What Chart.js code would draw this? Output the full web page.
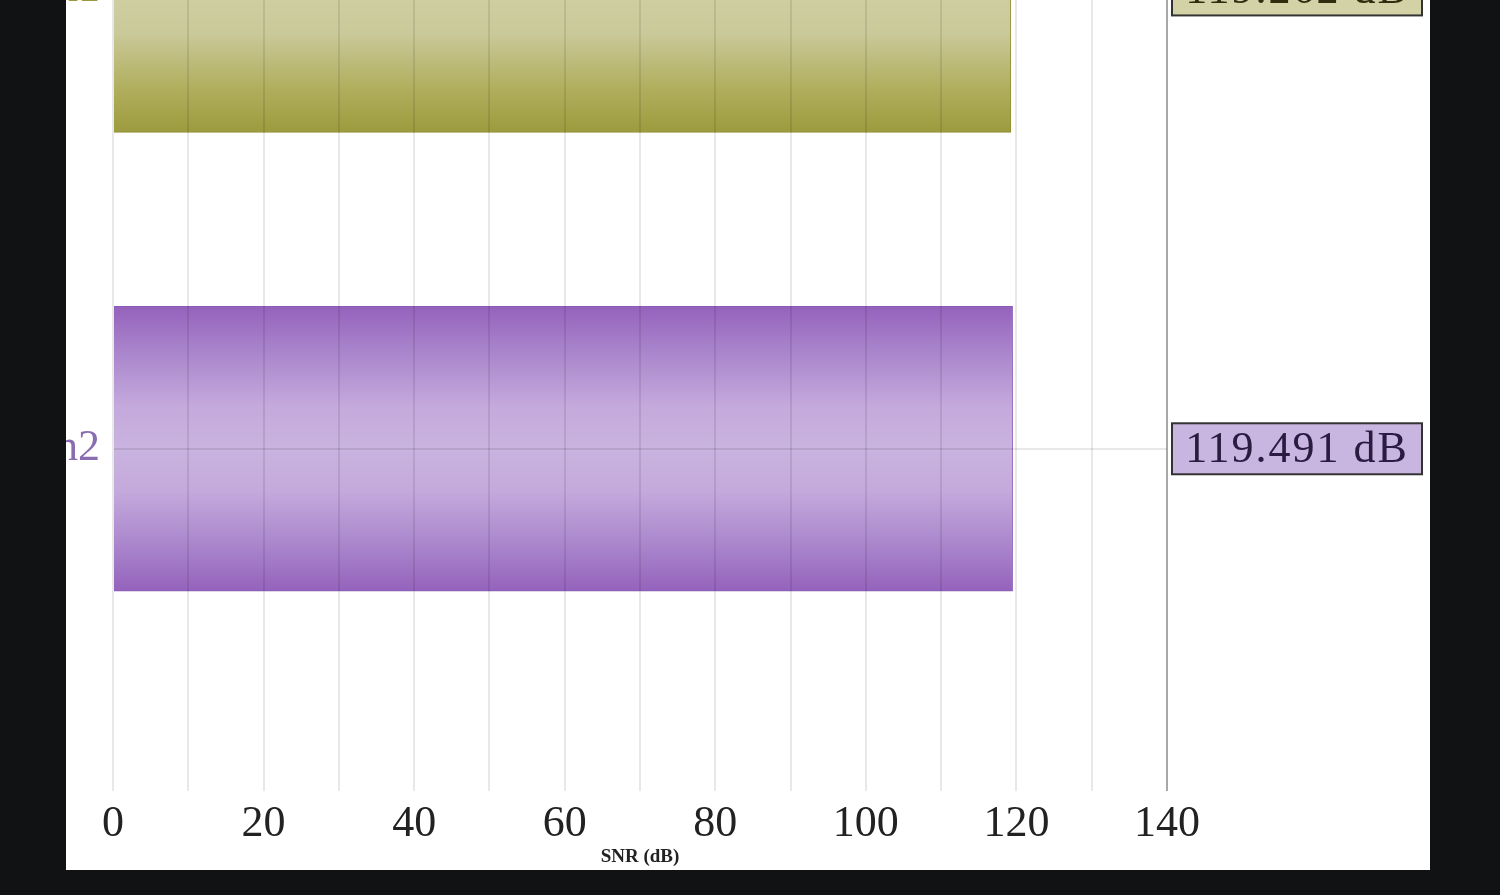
<!DOCTYPE html>
<html>
<head>
<meta charset="utf-8">
<script src="https://cdn.jsdelivr.net/npm/chart.js@4/dist/chart.umd.min.js"></script>
<style>
  html, body { margin: 0; padding: 0; background: #111214; width: 1500px; height: 895px; overflow: hidden; }
  #panel { position: absolute; left: 66px; top: 0; width: 1364px; height: 870px; background: #fff; overflow: hidden; }
  #snrChart { position: absolute; left: -60px; top: -300px; }
</style>
</head>
<body>
<div id="panel"><canvas id="snrChart" width="1424" height="1170"></canvas></div>
<script>
// Kanallar ve SNR değerleri
const channels = ['Ch1', 'Ch2'];
const snrValues = [119.262, 119.491];
const xTickLabels = [0, 20, 40, 60, 80, 100, 120, 140];

// Renkler
const labelColors = ['#9c9a3c', '#8a6cb0'];
const boxFills = ['#d3d2a6', '#c9b6e0'];
const boxTexts = ['#2e2d10', '#2a1c40'];
const barBorders = ['#8f8e32', '#8a5cb8'];
const gradStops = [
  ['#9c9b3e', '#b0ae5c', '#cac99a', '#d0cfa2', '#cac99a', '#b0ae5c', '#9c9b3e'],
  ['#9462bc', '#a883cb', '#c4a9dc', '#c9b3df', '#c4a9dc', '#a883cb', '#9462bc']
];
const stopPos = [0, 0.15, 0.35, 0.5, 0.65, 0.85, 1];
const barThick = 285;

function barGradient(c) {
  const chart = c.chart;
  const cols = gradStops[c.dataIndex];
  if (!chart.chartArea || !c.parsed) return cols[3];
  const yc = chart.scales.y.getPixelForValue(c.parsed.y);
  const g = chart.ctx.createLinearGradient(0, yc - barThick / 2, 0, yc + barThick / 2);
  stopPos.forEach((p, i) => g.addColorStop(p, cols[i]));
  return g;
}

// Sağdaki değer kutuları
const valueBoxes = {
  id: 'valueBoxes',
  afterDraw(chart) {
    const { ctx, chartArea, scales } = chart;
    ctx.save();
    snrValues.forEach((v, i) => {
      const yc = scales.y.getPixelForValue(i + 1);
      const x = chartArea.right + 5, w = 250, h = 51;
      ctx.fillStyle = boxFills[i];
      ctx.fillRect(x, yc - h / 2, w, h);
      ctx.lineWidth = 2;
      ctx.strokeStyle = '#333';
      ctx.strokeRect(x, yc - h / 2, w, h);
      ctx.fillStyle = boxTexts[i];
      ctx.font = '44px "Liberation Serif"';
      ctx.letterSpacing = '2px';
      ctx.textAlign = 'center';
      ctx.textBaseline = 'middle';
      ctx.fillText(v.toFixed(3) + ' dB', x + w / 2, yc + 2);
    });
    ctx.restore();
  }
};

function grafikOlustur() {
  const ctx = document.getElementById('snrChart').getContext('2d');
  return new Chart(ctx, {
    type: 'bar',
    data: {
      datasets: [{
        data: channels.map((c, i) => ({ x: snrValues[i], y: i + 1 })),
        backgroundColor: barGradient,
        borderColor: (c) => barBorders[c.dataIndex],
        borderWidth: 1,
        barThickness: barThick
      }]
    },
    options: {
      indexAxis: 'y',
      responsive: false,
      animation: false,
      devicePixelRatio: 1,
      layout: { padding: { top: 20, right: 263, left: 0, bottom: 0 } },
      plugins: { legend: { display: false }, tooltip: { enabled: false } },
      scales: {
        x: {
          type: 'linear',
          min: 0,
          max: 140,
          afterFit: (s) => { s.height = 78; },
          ticks: {
            stepSize: 10,
            padding: 6,
            color: '#222',
            font: { family: 'Liberation Serif', size: 44 },
            callback: (v) => (xTickLabels.includes(v) ? String(v) : '')
          },
          grid: {
            z: 1,
            drawTicks: false,
            lineWidth: 2,
            color: (c) => (c.tick && c.tick.value === 140 ? '#a8a8a8' : 'rgba(0,0,0,0.09)')
          },
          border: { color: '#9a9a9a', width: 2 },
          title: {
            display: true,
            text: 'SNR (dB)',
            color: '#222',
            font: { family: 'Liberation Serif', size: 19, weight: 'bold' },
            padding: { top: 0, bottom: 2 }
          }
        },
        y: {
          type: 'linear',
          reverse: true,
          offset: false,
          min: 0.454,
          max: 2.748,
          afterFit: (s) => { s.width = 107; },
          afterBuildTicks: (s) => { s.ticks = channels.map((c, i) => ({ value: i + 1 })); },
          ticks: {
            padding: 13,
            color: (c) => labelColors[c.index],
            font: { family: 'Liberation Serif', size: 44 },
            callback: (v) => channels[v - 1]
          },
          grid: { z: 1, offset: false, drawTicks: false, lineWidth: 2, color: 'rgba(0,0,0,0.09)' },
          border: { color: '#9a9a9a', width: 2 }
        }
      }
    },
    plugins: [valueBoxes]
  });
}

const myChart = grafikOlustur();
</script>
</body>
</html>
